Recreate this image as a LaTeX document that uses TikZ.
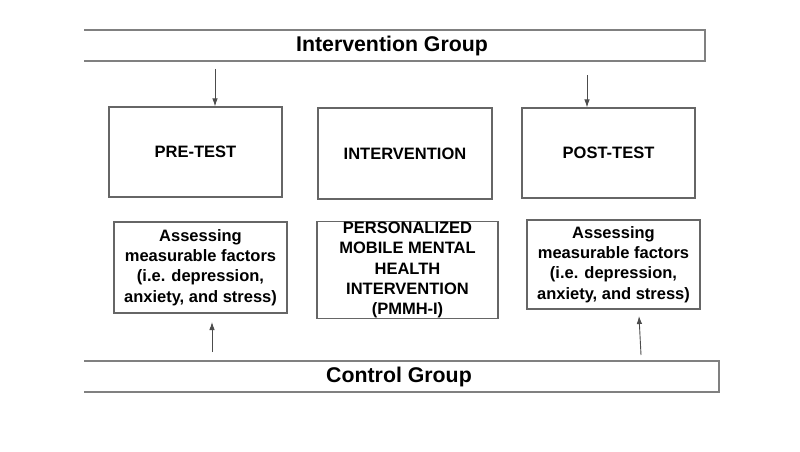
\documentclass[tikz,border=0pt]{standalone}
\usepackage{fontspec}
\setmainfont{Liberation Sans}
\usetikzlibrary{arrows.meta}
\begin{document}
\begin{tikzpicture}[x=1pt,y=-1pt,
  box/.style={draw=black!60,line width=1.1pt,inner sep=0pt,align=center,
    font=\bfseries\fontsize{16.5}{20.3}\selectfont},
  bar/.style={draw=black!50,line width=1.6pt},
  arr/.style={draw=black!70,line width=0.9pt,-{Latex[length=8pt,width=5.5pt]}},
  title/.style={font=\bfseries\fontsize{21.3}{25}\selectfont,inner sep=0pt}]
\useasboundingbox[fill=white] (0,0) rectangle (800,452);
% group bars
\node[title] (ig) at (392,46) {Intervention Group};
\draw[bar] (84,30) -- (705,30) -- (705,61) -- (84,61);
\node[title] (cg) at (399,377) {Control Group};
\draw[bar] (84,361) -- (719,361) -- (719,392) -- (84,392);
% top row
\node[box,minimum width=173pt,minimum height=90pt] (pre) at (195.5,152) {PRE-TEST};
\node[box,minimum width=174pt,minimum height=91pt] (int) at (405,153.5) {INTERVENTION};
\node[box,minimum width=173pt,minimum height=90pt] (post) at (608.5,153) {POST-TEST};
% bottom row
\node[box,minimum width=173pt,minimum height=91pt] (assA) at (200.5,267.5)
  {Assessing\\measurable factors\\(i.e. depression,\\anxiety, and stress)};
\node[box,minimum width=181pt,minimum height=94pt] (pmmh) at (407.5,270)
  {PERSONALIZED\\MOBILE MENTAL\\HEALTH\\INTERVENTION\\(PMMH-I)};
\node[box,minimum width=173pt,minimum height=89pt] (assB) at (613.5,264.5)
  {Assessing\\measurable factors\\(i.e. depression,\\anxiety, and stress)};
% arrows
\coordinate (s1) at (215,69);
\coordinate (s2) at (587,75);
\draw[arr] (s1) -- (s1 |- pre.north);
\draw[arr] (s2) -- (s2 |- post.north);
\coordinate (u1s) at (212,352);
\coordinate (u1e) at (212,322);
\coordinate (u2s) at (641,355);
\coordinate (u2e) at (639,316);
\draw[arr] (u1s) -- (u1e);
\draw[arr] (u2s) -- (u2e);
\end{tikzpicture}
\end{document}
